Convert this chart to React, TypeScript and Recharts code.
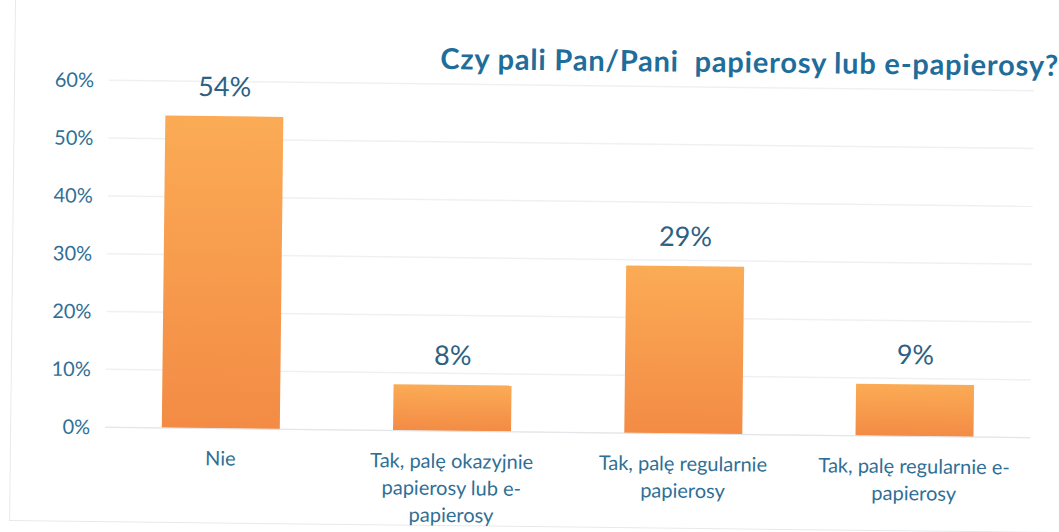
import React from 'react';
import { BarChart, Bar, XAxis, YAxis, CartesianGrid, LabelList } from 'recharts';

const categories = ['Nie', 'Tak, palę okazyjnie papierosy lub e-papierosy', 'Tak, palę regularnie papierosy', 'Tak, palę regularnie e-papierosy'];
const tickLines = [
  ['Nie'],
  ['Tak, palę okazyjnie', 'papierosy lub e-', 'papierosy'],
  ['Tak, palę regularnie', 'papierosy'],
  ['Tak, palę regularnie e-', 'papierosy'],
];
const values = [0.54, 0.08, 0.29, 0.09];
const labels = ['54%', '8%', '29%', '9%'];
const yTicks = [0, 0.1, 0.2, 0.3, 0.4, 0.5, 0.6];
const title = 'Czy pali Pan/Pani  papierosy lub e-papierosy?';

const data = categories.map((c, i) => ({ name: c, value: values[i], label: labels[i] }));

const FONT = 'Lato, "Open Sans", sans-serif';
const BLUE = '#2f6f96';

const XTick = (props: any) => {
  const { x, y, payload } = props;
  const lines = tickLines[payload.index] || [String(payload.value)];
  return (
    <text x={x} y={y} textAnchor="middle" fill={BLUE} fontFamily={FONT} fontSize={20}>
      {lines.map((l, i) => (
        <tspan key={i} x={x} dy={i === 0 ? 29 : 27}>{l}</tspan>
      ))}
    </text>
  );
};

export default function App() {
  return (
    <div style={{ position: 'absolute', left: 0, top: 0, width: 1059, height: 532, background: '#fff', overflow: 'hidden' }}>
      <div style={{ position: 'absolute', left: 0, top: 0, width: 1059, height: 532, transform: 'rotate(0.65deg)', transformOrigin: '50% 50%' }}>
        <div style={{ position: 'absolute', left: 12, top: -10, width: 1100, height: 535, border: '1px solid #e6eaed' }} />
        <div style={{ position: 'absolute', left: 438, top: 41, fontFamily: FONT, fontWeight: 700, fontSize: 29, letterSpacing: 0.8, color: '#1f6d9a', whiteSpace: 'pre', lineHeight: 'normal' }}>{title}</div>
        <BarChart width={1059} height={532} data={data} margin={{ top: 85, right: 27, bottom: 70, left: 0 }} barCategoryGap="24.5%">
          <defs>
            <linearGradient id="barGrad" x1="0" y1="0" x2="0" y2="1">
              <stop offset="0%" stopColor="#fbab55" />
              <stop offset="100%" stopColor="#f38b45" />
            </linearGradient>
          </defs>
          <CartesianGrid vertical={false} stroke="#eef0f2" strokeWidth={1.5} />
          <XAxis dataKey="name" axisLine={{ stroke: '#e3e6e9' }} tickLine={false} tick={<XTick />} interval={0} />
          <YAxis domain={[0, 0.6]} ticks={yTicks} axisLine={false} tickLine={false} width={107}
            tickFormatter={(v: number) => `${Math.round(v * 100)}%`}
            tick={{ fill: BLUE, fontFamily: FONT, fontSize: 20, dx: -7 }} />
          <Bar dataKey="value" fill="url(#barGrad)" isAnimationActive={false}>
            <LabelList dataKey="label" position="top" offset={20} fill="#2b6284" fontFamily={FONT} fontSize={27} />
          </Bar>
        </BarChart>
      </div>
    </div>
  );
}
